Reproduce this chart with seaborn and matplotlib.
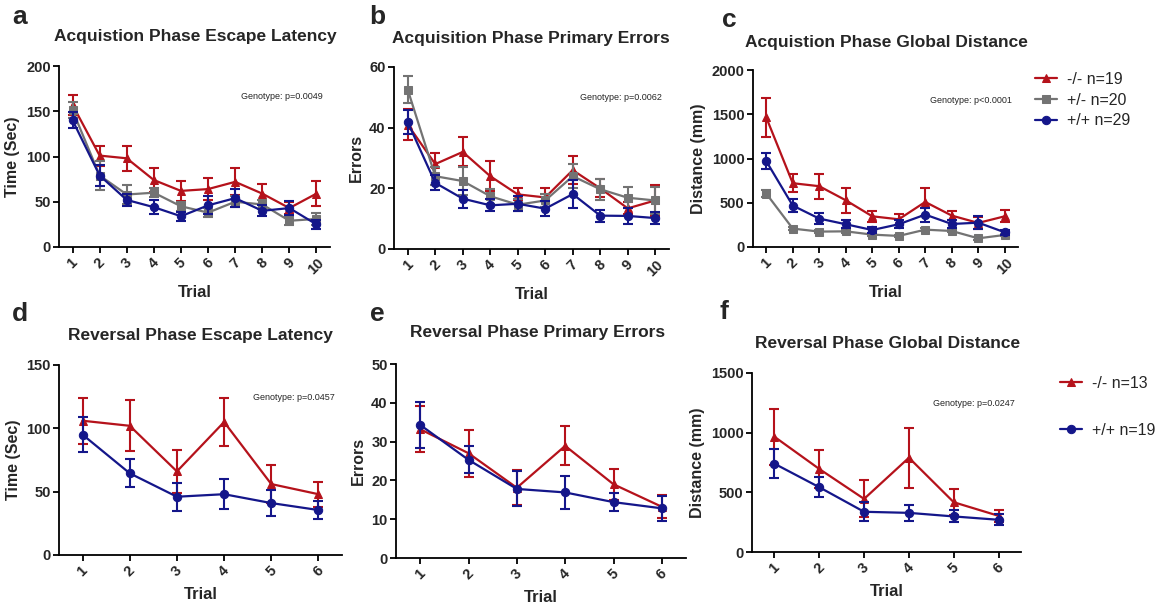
import matplotlib
matplotlib.use("Agg")
import matplotlib.pyplot as plt
import numpy as np
import pandas as pd
import seaborn as sns

TRIALS_ACQ = list(range(1, 11))
TRIALS_REV = list(range(1, 7))

# acquisition phase, mean and SEM per genotype
ACQ_LAT_KO = [157, 101, 98, 74, 62, 64, 72, 59, 43, 59]
ACQ_LAT_KO_SEM = [11, 11, 14, 13, 11, 12, 15, 11, 7, 14]
ACQ_LAT_HET = [151, 79, 58, 60, 45, 38, 50, 47, 29, 31]
ACQ_LAT_HET_SEM = [9, 16, 11, 5, 5, 5, 6, 5, 5, 7]
ACQ_LAT_WT = [140, 79, 52, 44, 34, 46, 54, 40, 43, 25]
ACQ_LAT_WT_SEM = [9, 12, 7, 8, 5, 10, 10, 6, 8, 5]

ACQ_ERR_KO = [41, 28, 32, 24, 18, 17, 26, 20, 13.4, 16]
ACQ_ERR_KO_SEM = [5, 3.5, 4.8, 5, 2, 3, 4.5, 3, 2, 5]
ACQ_ERR_HET = [52.5, 24, 22.4, 17.4, 14.6, 16, 24, 19.7, 16.9, 16]
ACQ_ERR_HET_SEM = [4.5, 3, 4.5, 2.5, 2, 2, 4, 3.5, 3.5, 4.5]
ACQ_ERR_WT = [41.8, 21.8, 16.6, 14.4, 14.9, 13.3, 18.1, 11, 10.9, 10.2]
ACQ_ERR_WT_SEM = [4, 2.5, 3, 2, 2.5, 2.5, 4.5, 2, 2.5, 2]

ACQ_DIST_KO = [1464, 721, 687, 528, 347, 313, 509, 355, 272, 347]
ACQ_DIST_KO_SEM = [220, 100, 140, 140, 60, 60, 160, 55, 70, 70]
ACQ_DIST_HET = [604, 208, 174, 177, 140, 125, 196, 181, 98, 136]
ACQ_DIST_HET_SEM = [40, 20, 15, 15, 15, 15, 20, 15, 15, 15]
ACQ_DIST_WT = [970, 468, 321, 257, 192, 257, 366, 260, 275, 166]
ACQ_DIST_WT_SEM = [90, 70, 60, 45, 30, 45, 80, 40, 70, 30]

# reversal phase
REV_LAT_KO = [106, 102, 66, 105, 56, 48]
REV_LAT_KO_SEM = [18, 20, 17, 19, 15, 10]
REV_LAT_WT = [95, 64.5, 46, 48, 41, 35.5]
REV_LAT_WT_SEM = [14, 11, 11, 12, 10, 7]

REV_ERR_KO = [33.2, 27, 18.1, 28.9, 19, 13.2]
REV_ERR_KO_SEM = [6, 6, 4.5, 5, 4, 3]
REV_ERR_WT = [34.3, 25.3, 17.8, 16.9, 14.4, 12.8]
REV_ERR_WT_SEM = [6, 3.5, 4.5, 4.3, 2.3, 3.2]

REV_DIST_KO = [966, 696, 445, 790, 417, 303]
REV_DIST_KO_SEM = [235, 160, 155, 250, 110, 50]
REV_DIST_WT = [740, 543, 337, 328, 298, 270]
REV_DIST_WT_SEM = [120, 85, 80, 70, 50, 45]

ACQ_LABELS = ["-/- n=19", "+/- n=20", "+/+ n=29"]
REV_LABELS = ["-/- n=13", "+/+ n=19"]

COLORS = {"ko": "#B5121B", "het": "#737373", "wt": "#14168A"}
MARKERS = {"ko": "^", "het": "s", "wt": "o"}

W, H = 1160, 612


def add_axes(fig, left, top, right, bottom):
    return fig.add_axes([left / W, 1 - bottom / H, (right - left) / W, (bottom - top) / H])


def draw_panel(ax, trials, series, ylim, yticks, ylabel, pval=None):
    for key, label, mean, sem in series:
        df = pd.DataFrame({"Trial": trials, "value": mean})
        sns.lineplot(
            data=df, x="Trial", y="value", ax=ax, color=COLORS[key],
            marker=MARKERS[key], markersize=6 if key != "ko" else 5.5,
            markeredgecolor=COLORS[key], linewidth=1.6, label=label,
            errorbar=None,
        )
        ax.errorbar(trials, mean, yerr=sem, fmt="none", ecolor=COLORS[key],
                    elinewidth=1.5, capsize=3.5, capthick=1.5)
    ax.set_xlim(0.5, len(trials) + 0.5)
    ax.set_ylim(*ylim)
    ax.set_yticks(yticks)
    ax.set_xticks(trials)
    ax.set_xticklabels([str(t) for t in trials], rotation=45, ha="center",
                       fontweight="bold", fontsize=10.5)
    for t in ax.get_yticklabels():
        t.set_fontweight("bold")
        t.set_fontsize(10.5)
    ax.set_ylabel(ylabel, fontweight="bold", fontsize=11.5)
    ax.set_xlabel("Trial", fontweight="bold", fontsize=12, labelpad=6)
    sns.despine(ax=ax)
    for s in ("left", "bottom"):
        ax.spines[s].set_linewidth(1.3)
        ax.spines[s].set_color("black")
    ax.tick_params(width=1.3, length=4, color="black", pad=2)
    if pval:
        ax.text(0.975, 0.83, "Genotype: " + pval, transform=ax.transAxes,
                ha="right", va="center", fontsize=6.5)
    ax.legend_.remove()


def main():
    sns.set_style("ticks")
    plt.rcParams["font.family"] = ["Liberation Sans", "DejaVu Sans"]
    fig = plt.figure(figsize=(W / 100, H / 100), dpi=100)

    ax_a = add_axes(fig, 59, 66, 330, 247)
    draw_panel(ax_a, TRIALS_ACQ, [
        ("ko", ACQ_LABELS[0], ACQ_LAT_KO, ACQ_LAT_KO_SEM),
        ("het", ACQ_LABELS[1], ACQ_LAT_HET, ACQ_LAT_HET_SEM),
        ("wt", ACQ_LABELS[2], ACQ_LAT_WT, ACQ_LAT_WT_SEM),
    ], (0, 200), [0, 50, 100, 150, 200], "Time (Sec)", "p=0.0049")

    ax_b = add_axes(fig, 394, 67, 669, 249)
    draw_panel(ax_b, TRIALS_ACQ, [
        ("ko", ACQ_LABELS[0], ACQ_ERR_KO, ACQ_ERR_KO_SEM),
        ("het", ACQ_LABELS[1], ACQ_ERR_HET, ACQ_ERR_HET_SEM),
        ("wt", ACQ_LABELS[2], ACQ_ERR_WT, ACQ_ERR_WT_SEM),
    ], (0, 60), [0, 20, 40, 60], "Errors", "p=0.0062")

    ax_c = add_axes(fig, 753, 70, 1018, 247)
    draw_panel(ax_c, TRIALS_ACQ, [
        ("ko", ACQ_LABELS[0], ACQ_DIST_KO, ACQ_DIST_KO_SEM),
        ("het", ACQ_LABELS[1], ACQ_DIST_HET, ACQ_DIST_HET_SEM),
        ("wt", ACQ_LABELS[2], ACQ_DIST_WT, ACQ_DIST_WT_SEM),
    ], (0, 2000), [0, 500, 1000, 1500, 2000], "Distance (mm)", "p<0.0001")

    ax_d = add_axes(fig, 59, 365, 342, 555)
    draw_panel(ax_d, TRIALS_REV, [
        ("ko", REV_LABELS[0], REV_LAT_KO, REV_LAT_KO_SEM),
        ("wt", REV_LABELS[1], REV_LAT_WT, REV_LAT_WT_SEM),
    ], (0, 150), [0, 50, 100, 150], "Time (Sec)", "p=0.0457")

    ax_e = add_axes(fig, 396, 364, 686, 558)
    draw_panel(ax_e, TRIALS_REV, [
        ("ko", REV_LABELS[0], REV_ERR_KO, REV_ERR_KO_SEM),
        ("wt", REV_LABELS[1], REV_ERR_WT, REV_ERR_WT_SEM),
    ], (0, 50), [0, 10, 20, 30, 40, 50], "Errors")

    ax_f = add_axes(fig, 752, 373, 1021, 552)
    draw_panel(ax_f, TRIALS_REV, [
        ("ko", REV_LABELS[0], REV_DIST_KO, REV_DIST_KO_SEM),
        ("wt", REV_LABELS[1], REV_DIST_WT, REV_DIST_WT_SEM),
    ], (0, 1500), [0, 500, 1000, 1500], "Distance (mm)", "p=0.0247")

    # legends, anchored in figure pixels
    h, l = ax_c.get_legend_handles_labels()
    fig.legend(h, l, loc="upper left", bbox_to_anchor=(1035 / W, 1 - 72 / H),
               frameon=False, fontsize=11.5, handlelength=1.4, handletextpad=0.6,
               labelspacing=0.35, borderpad=0, borderaxespad=0)
    h, l = ax_f.get_legend_handles_labels()
    fig.legend(h, l, loc="upper left", bbox_to_anchor=(1060 / W, 1 - 376 / H),
               frameon=False, fontsize=11.5, handlelength=1.4, handletextpad=0.6,
               labelspacing=2.0, borderpad=0, borderaxespad=0)

    titles = [
        (195, 37, "Acquistion Phase Escape Latency"),
        (531, 38, "Acquisition Phase Primary Errors"),
        (886, 42, "Acquistion Phase Global Distance"),
        (200, 335, "Reversal Phase Escape Latency"),
        (538, 333, "Reversal Phase Primary Errors"),
        (888, 344, "Reversal Phase Global Distance"),
    ]
    for x, y, s in titles:
        fig.text(x / W, 1 - y / H, s, ha="center", va="center",
                 fontsize=12.5, fontweight="bold")

    letters = [(12, 17, "a"), (369, 17, "b"), (722, 20, "c"),
               (12, 314, "d"), (370, 314, "e"), (719, 312, "f")]
    for x, y, s in letters:
        fig.text(x / W, 1 - y / H, s, ha="left", va="center",
                 fontsize=19, fontweight="bold")

    fig.savefig("out.png", dpi=100)


if __name__ == "__main__":
    main()
